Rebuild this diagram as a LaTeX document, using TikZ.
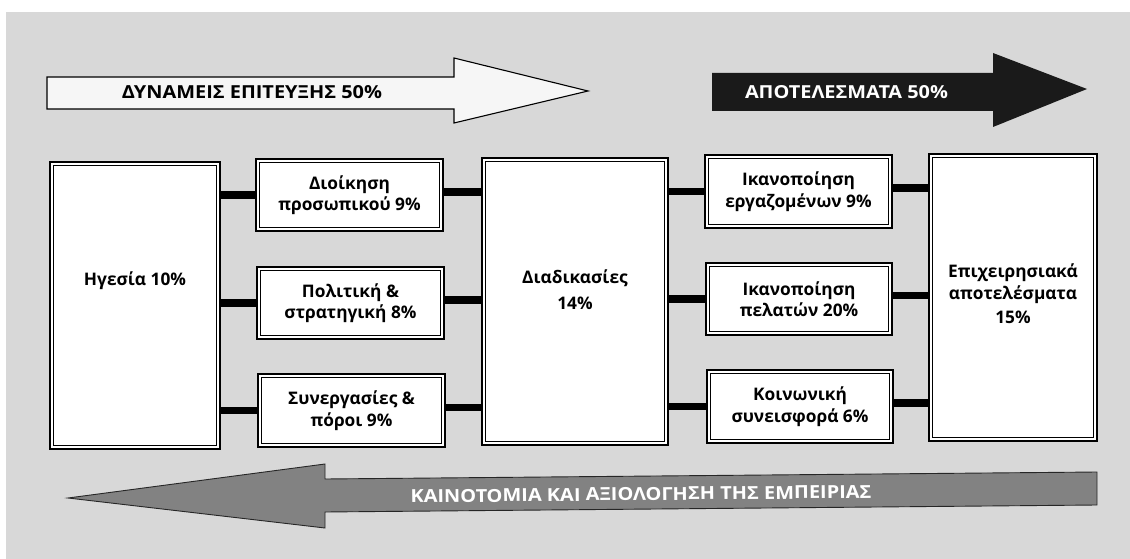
\documentclass[tikz,border=0pt]{standalone}
\usepackage{fontspec}
\setmainfont{Open Sans}
\usepackage{graphicx}
\definecolor{bg}{RGB}{216,216,216}
\definecolor{arrlight}{RGB}{246,246,246}
\definecolor{arrdark}{RGB}{26,26,26}
\definecolor{arrgrey}{RGB}{130,130,130}
\newcommand\bxfont{\fontsize{17.3}{21.5}\selectfont\bfseries}
\tikzset{
  box/.style={draw=black, line width=2.4pt, fill=white, inner sep=0pt, outer sep=0pt,
              align=center, font=\bxfont},
  blabel/.style={align=center, font=\bxfont, inner sep=0pt},
  bar/.style={line width=7.5pt, black},
  hdr/.style={inner sep=0pt, font=\bfseries},
}
\begin{document}
\begin{tikzpicture}[x=1pt, y=-1pt]
\useasboundingbox (0,0) rectangle (1130,559);
% background
\fill[white] (0,0) rectangle (1130,559);
\fill[bg] (6,12) rectangle (1130,559);

% top arrows
\filldraw[fill=arrlight, draw=black, line width=1.1pt]
  (47,77) -- (454,77) -- (454,58) -- (588,91) -- (454,123) -- (454,109) -- (47,109) -- cycle;
\fill[arrdark]
  (712,73) -- (993,73) -- (993,53) -- (1087,89) -- (993,127) -- (993,111) -- (712,111) -- cycle;
\node[hdr, text=black] (t1) at (252,92) {\resizebox{260pt}{13pt}{ΔΥΝΑΜΕΙΣ ΕΠΙΤΕΥΞΗΣ 50\%}};
\node[hdr, text=white] (t2) at (846.5,92) {\resizebox{203pt}{13pt}{ΑΠΟΤΕΛΕΣΜΑΤΑ 50\%}};

% bottom arrow
\filldraw[fill=arrgrey, draw=black!85, line width=0.9pt]
  (68,498) -- (325,464) -- (325,479) -- (1097,472) -- (1097,505) -- (325,512) -- (325,528) -- cycle;
\node[hdr, text=white, rotate=0.6] (t3) at (641,494) {\resizebox{461pt}{13pt}{ΚΑΙΝΟΤΟΜΙΑ ΚΑΙ ΑΞΙΟΛΟΓΗΣΗ ΤΗΣ ΕΜΠΕΙΡΙΑΣ}};

% boxes
\node[box, minimum width=170pt, minimum height=287pt,
      label={[blabel, yshift=25pt]center:Ηγεσία 10\%}] (heg) at (135,305.5) {};
\node[box, minimum width=187pt, minimum height=72pt] (d1) at (349.5,195) {Διοίκηση\\προσωπικού 9\%};
\node[box, minimum width=187pt, minimum height=72pt] (d2) at (350.5,303) {Πολιτική \&\\στρατηγική 8\%};
\node[box, minimum width=187pt, minimum height=73pt] (d3) at (351.5,410.5) {Συνεργασίες \&\\πόροι 9\%};
\node[box, minimum width=186pt, minimum height=287pt,
      label={[blabel, yshift=12pt]center:Διαδικασίες\\[4pt]14\%}] (proc) at (575,301.5) {};
\node[box, minimum width=187pt, minimum height=73pt] (r1) at (798.5,191.5) {Ικανοποίηση\\εργαζομένων 9\%};
\node[box, minimum width=186pt, minimum height=72pt] (r2) at (799,299) {Ικανοποίηση\\πελατών 20\%};
\node[box, minimum width=186pt, minimum height=73pt] (r3) at (800,406.5) {Κοινωνική\\συνεισφορά 6\%};
\node[box, minimum width=168pt, minimum height=287pt,
      label={[blabel, yshift=4pt]center:Επιχειρησιακά\\[1pt]αποτελέσματα\\[2pt]15\%}] (res) at (1013,297.5) {};

% inner borders of the double frames
\foreach \n in {heg,d1,d2,d3,proc,r1,r2,r3,res}
  \draw[line width=1.1pt] ([shift={(3.8,3.8)}]\n.north west) rectangle ([shift={(-3.8,-3.8)}]\n.south east);

% connectors
\foreach \d in {d1,d2,d3}
  \draw[bar] (heg.east |- \d.west) -- (\d.west);
\foreach \d/\r in {d1/r1,d2/r2,d3/r3}
  \draw[bar] ([yshift=3pt]\d.east) -- ([yshift=3pt]\d.east -| proc.west);
\foreach \r in {r1,r2,r3}
  \draw[bar] (proc.east |- \r.west) -- (\r.west);
\foreach \r in {r1,r2,r3}
  \draw[bar] ([yshift=3.5pt]\r.east) -- ([yshift=3.5pt]\r.east -| res.west);
\end{tikzpicture}
\end{document}
